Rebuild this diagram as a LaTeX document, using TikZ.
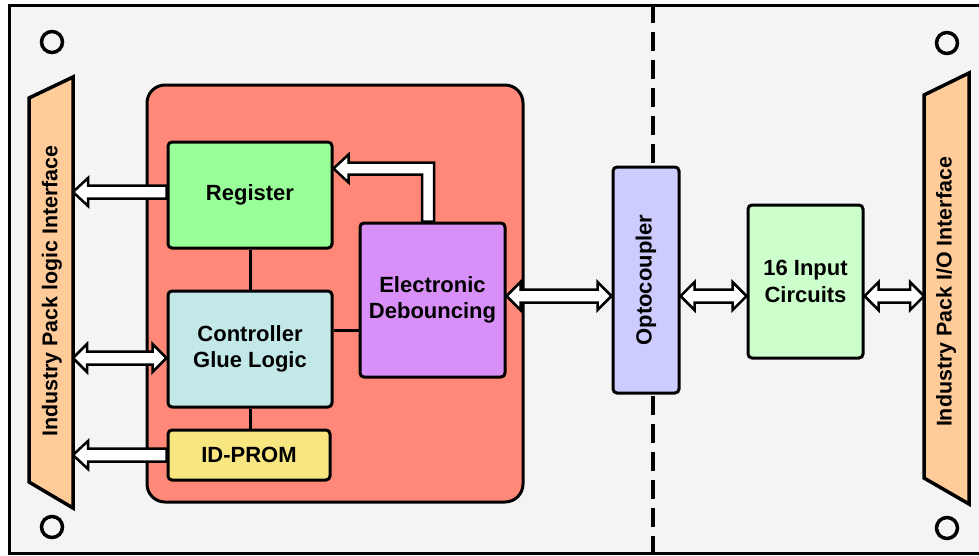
\documentclass[tikz,border=0pt]{standalone}
\usepackage{fontspec}
\setmainfont{Liberation Sans}
\usetikzlibrary{calc}
\definecolor{bgc}{HTML}{F4F4F4}
\definecolor{cardc}{HTML}{FF8878}
\definecolor{regc}{HTML}{99FF99}
\definecolor{ctrlc}{HTML}{C2E8E8}
\definecolor{idpc}{HTML}{F8E680}
\definecolor{elecc}{HTML}{D88FF8}
\definecolor{optoc}{HTML}{CCCCFF}
\definecolor{inpc}{HTML}{CCFFCC}
\definecolor{trapc}{HTML}{FFCC99}
\pgfdeclarelayer{bglayer}
\pgfdeclarelayer{arrowlayer}
\pgfsetlayers{bglayer,arrowlayer,main}
\tikzset{
  blk/.style={draw=black, line width=3pt, rounded corners=4pt, inner sep=0pt,
    font=\bfseries\fontsize{22}{26.5}\selectfont, align=center, text=black},
  fatarrow/.style={draw=black, fill=white, line width=2.5pt, line join=miter},
  link/.style={draw=black, line width=3pt},
  trapshape/.style={draw=black, fill=trapc, line width=3.5pt, line join=miter},
  traptext/.style={font=\bfseries\fontsize{21.4}{24}\selectfont, inner sep=0pt, text=black},
  hole/.style={draw=black, line width=3.5pt},
}
\newcommand\fatone[2]{%
  \draw[fatarrow] let \p1=(#1), \p2=(#2), \n1={sign(\x2-\x1)} in
    (\x1,\y1+6.5pt) -- ({\x2-(\n1)*15pt},\y1+6.5pt) -- ({\x2-(\n1)*15pt},\y1+14pt)
    -- (\x2,\y1) -- ({\x2-(\n1)*15pt},\y1-14pt) -- ({\x2-(\n1)*15pt},\y1-6.5pt)
    -- (\x1,\y1-6.5pt) -- cycle;}
\newcommand\fattwo[2]{%
  \draw[fatarrow] let \p1=(#1), \p2=(#2), \n1={sign(\x2-\x1)} in
    (\x1,\y1) -- ({\x1+(\n1)*14pt},\y1+14pt) -- ({\x1+(\n1)*14pt},\y1+6.5pt)
    -- ({\x2-(\n1)*14pt},\y1+6.5pt) -- ({\x2-(\n1)*14pt},\y1+14pt) -- (\x2,\y1)
    -- ({\x2-(\n1)*14pt},\y1-14pt) -- ({\x2-(\n1)*14pt},\y1-6.5pt)
    -- ({\x1+(\n1)*14pt},\y1-6.5pt) -- ({\x1+(\n1)*14pt},\y1-14pt) -- cycle;}
\begin{document}
\begin{tikzpicture}[x=1pt,y=-1pt]
\useasboundingbox (0,0) rectangle (979,555);
\begin{pgfonlayer}{bglayer}
  \fill[white] (0,0) rectangle (979,555);
  \draw[fill=bgc, line width=3pt] (9,5.5) rectangle (995,553);
  \draw[line width=4pt, dash pattern=on 19pt off 9pt, dash phase=2pt] (652.5,5.5) -- (652.5,553);
  \draw[hole] (52,42) circle[radius=10.5];
  \draw[hole] (52,527) circle[radius=10.5];
  \draw[hole] (947,43) circle[radius=10.5];
  \draw[hole] (947,528) circle[radius=10.5];
  \node[draw=black, fill=cardc, line width=3pt, rounded corners=18pt, inner sep=0pt,
        minimum width=376pt, minimum height=417pt] (card) at (335,293.5) {};
\end{pgfonlayer}

% trapezoids
\draw[trapshape] (29,98) -- (73,77) -- (73,508) -- (29,482) -- cycle;
\coordinate (tlx) at (73,77);
\node[traptext, rotate=90] (lbl1) at (52,291) {Industry Pack logic Interface};
\draw[trapshape] (924,95) -- (969,73) -- (969,504) -- (924,478) -- cycle;
\coordinate (trx) at (924,95);
\node[traptext, rotate=90] (lbl2) at (946,292) {Industry Pack I/O Interface};

% blocks
\node[blk, fill=regc, minimum width=164pt, minimum height=106pt] (reg) at (250,195) {Register};
\node[blk, fill=ctrlc, minimum width=164pt, minimum height=116pt] (ctrl) at (250,349) {Controller\\Glue Logic};
\node[blk, fill=idpc, minimum width=162pt, minimum height=50pt] (idp) at (249,455) {ID-PROM};
\node[blk, fill=elecc, minimum width=145pt, minimum height=154pt] (elec) at (432.5,300) {Electronic\\Debouncing};
\node[blk, fill=optoc, minimum width=66pt, minimum height=226pt,
      label={[rotate=90, font=\bfseries\fontsize{22}{26.5}\selectfont, inner sep=0pt]center:Optocoupler}] (opto) at (646,280) {};
\node[blk, fill=inpc, minimum width=115pt, minimum height=153pt] (inp) at (805.5,281.5) {16 Input\\Circuits};

% plain links
\draw[link] (reg.south) -- (ctrl.north);
\draw[link] (ctrl.south) -- (ctrl.south |- idp.north);
\coordinate (c1) at ([yshift=19pt]ctrl.east);
\draw[link] (c1) -- (c1 -| elec.west);

% fat arrows
\begin{pgfonlayer}{arrowlayer}
  \coordinate (a1) at ([yshift=3pt]reg.west);
  \fatone{a1}{a1 -| tlx}
  \coordinate (a2) at ([yshift=-9pt]ctrl.west);
  \fattwo{a2}{a2 -| tlx}
  \coordinate (a3) at (idp.west);
  \fatone{a3}{a3 -| tlx}
  \coordinate (a4) at ([yshift=4pt]elec.east);
  \fattwo{a4}{a4 -| opto.west}
  \fattwo{a4 -| opto.east}{a4 -| inp.west}
  \fattwo{a4 -| inp.east}{a4 -| trx}
  \coordinate (ebase) at ([xshift=-4.5pt]elec.north);
  \coordinate (rhead) at ([yshift=26.5pt]reg.east);
  \draw[fatarrow] let \p1=(ebase), \p2=(rhead) in
    (\x1-6pt,\y1) -- (\x1-6pt,\y2-6pt) -- (\x2+15pt,\y2-6pt) -- (\x2+15pt,\y2-14pt)
    -- (\x2,\y2) -- (\x2+15pt,\y2+14pt) -- (\x2+15pt,\y2+6pt) -- (\x1+6pt,\y2+6pt)
    -- (\x1+6pt,\y1) -- cycle;
\end{pgfonlayer}
\end{tikzpicture}
\end{document}
